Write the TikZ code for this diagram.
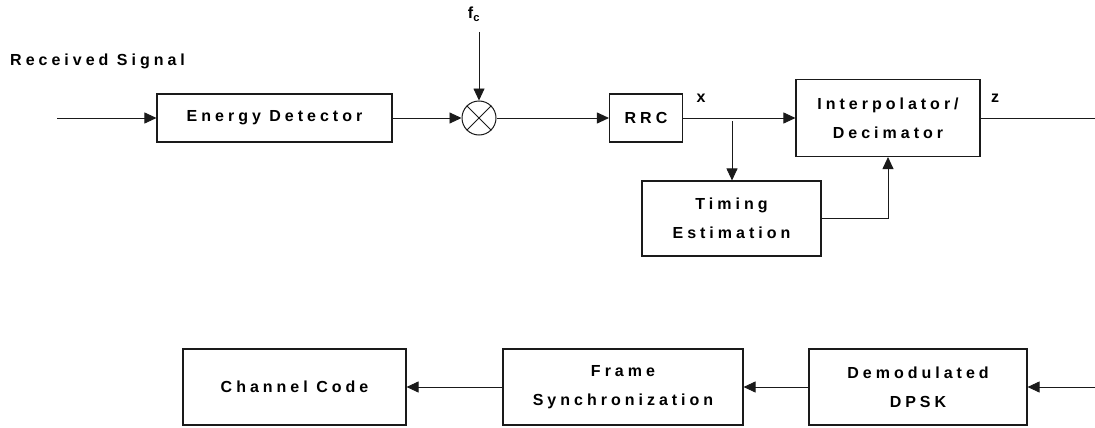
\documentclass[tikz,border=0pt]{standalone}
\usepackage{fontspec}
\setmainfont{Liberation Sans}[LetterSpace=25]
\usetikzlibrary{arrows.meta}
\definecolor{linedark}{HTML}{1A1A1A}
\definecolor{textdark}{HTML}{000000}

\begin{document}
\begin{tikzpicture}[x=1pt,y=-1pt,font=\fontsize{16}{29}\selectfont\bfseries,text=textdark,
  block/.style={draw=linedark,line width=1.1pt,align=center,inner sep=0pt},
  mixer/.style={draw=linedark,line width=1pt,circle,minimum size=34pt,inner sep=0pt},
  sig/.style={draw=linedark,line width=0.9pt,-{Triangle[length=12pt,width=11pt]}},
  wire/.style={draw=linedark,line width=0.9pt}]
  \useasboundingbox (0,0) rectangle (1095,428);

  % receiver front end
  \node[block,minimum width=235pt,minimum height=48pt] (energy) at (274.5,118) {Energy Detector};
  \node[mixer] (mix) at (479,118) {};
  \draw[wire] (mix.north west) -- (mix.south east) (mix.north east) -- (mix.south west);
  \node[block,minimum width=73pt,minimum height=48pt] (rrc) at (646,118) {RRC};
  \node[block,minimum width=184pt,minimum height=77pt] (interp) at (888,118) {Interpolator/\\Decimator};
  \node[block,minimum width=179pt,minimum height=75pt] (timing) at (731.5,218.5) {Timing\\Estimation};

  \node[anchor=west,inner sep=0pt] (rxlabel) at (10,61) {Received Signal};
  \node[inner sep=0pt] (fclabel) at (474,14) {f\textsubscript{c}};
  \node[inner sep=0pt] (xlabel) at (701,98) {x};
  \node[inner sep=0pt] (zlabel) at (995,98) {z};

  \coordinate (rxin) at (57,118);
  \coordinate (fcin) at (479,32);
  \coordinate (tap) at (732,121);
  \coordinate (zout) at (1095,118);

  \draw[sig] (rxin) -- (energy);
  \draw[sig] (energy) -- (mix);
  \draw[sig] (fcin) -- (mix);
  \draw[sig] (mix) -- (rrc);
  \draw[sig] (rrc) -- (interp);
  \draw[wire] (interp) -- (zout);
  \draw[sig] (tap) -- (tap |- timing.north);
  \draw[sig] (timing) -| (interp);

  % back end, right to left
  \foreach \name/\cx/\w/\txt in {
    channel/294.5/223/Channel Code,
    frame/623/240/Frame\\Synchronization,
    demod/918/218/Demodulated\\DPSK} {
    \node[block,minimum width=\w pt,minimum height=76pt] (\name) at (\cx,387) {\txt};
  }
  \coordinate (dpskin) at (1095,387);

  \draw[sig] (dpskin) -- (demod);
  \draw[sig] (demod) -- (frame);
  \draw[sig] (frame) -- (channel);
\end{tikzpicture}
\end{document}
